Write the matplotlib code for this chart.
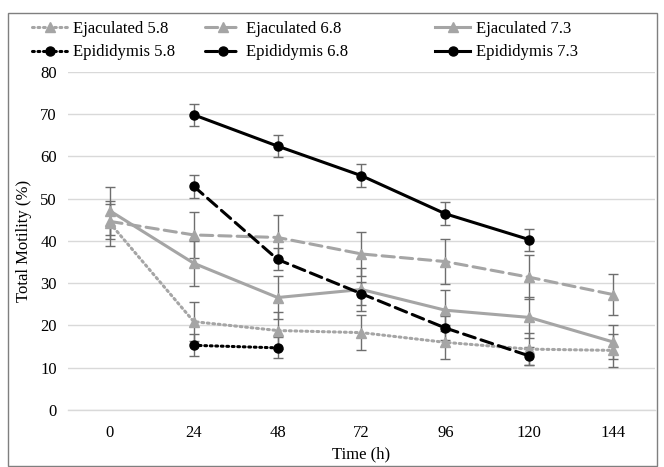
import matplotlib
matplotlib.use("Agg")
import matplotlib.pyplot as plt
import numpy as np
from matplotlib.patches import Rectangle

plt.rcParams['font.family'] = ['Liberation Serif', 'DejaVu Serif']

# time points (h)
hours = ['0', '24', '48', '72', '96', '120', '144']

# total motility (%) and error bars
ejac_58 = [44.2, 20.9, 18.8, 18.3, 16.0, 14.4, 14.1]
ejac_58_err = [5.3, 4.6, 4.4, 4.1, 4.0, 3.8, 3.9]
ejac_68 = [44.6, 41.4, 40.8, 36.9, 35.1, 31.4, 27.3]
ejac_68_err = [4.2, 5.4, 5.4, 5.3, 5.3, 5.2, 4.9]
ejac_73 = [47.1, 34.7, 26.6, 28.5, 23.6, 21.9, 16.1]
ejac_73_err = [5.6, 5.3, 5.0, 5.0, 4.8, 4.8, 4.0]
epid_58 = [np.nan, 15.3, 14.7, np.nan, np.nan, np.nan, np.nan]
epid_58_err = [0, 2.6, 2.5, 0, 0, 0, 0]
epid_68 = [np.nan, 52.9, 35.6, 27.5, 19.4, 12.8, np.nan]
epid_68_err = [0, 2.7, 2.6, 2.7, 2.9, 2.2, 0]
epid_73 = [np.nan, 69.8, 62.4, 55.4, 46.4, 40.3, np.nan]
epid_73_err = [0, 2.6, 2.6, 2.7, 2.7, 2.6, 0]

GRAY = '#a5a5a5'
ERR = '#6e6e6e'
FS = 12

fig = plt.figure(figsize=(6.64, 4.67), dpi=100)
ax = fig.add_axes([0.1024, 0.122, 0.884, 0.7245])

x = np.arange(len(hours))

series = [
    (ejac_58, ejac_58_err, 'Ejaculated 5.8', GRAY, '^', (0, (0.6, 1.2))),
    (ejac_68, ejac_68_err, 'Ejaculated 6.8', GRAY, '^', (0, (4, 2))),
    (ejac_73, ejac_73_err, 'Ejaculated 7.3', GRAY, '^', '-'),
    (epid_58, epid_58_err, 'Epididymis 5.8', 'black', 'o', (0, (0.6, 1.2))),
    (epid_68, epid_68_err, 'Epididymis 6.8', 'black', 'o', (0, (4, 2))),
    (epid_73, epid_73_err, 'Epididymis 7.3', 'black', 'o', '-'),
]

handles = []
for vals, err, name, col, mk, ls in series:
    v = np.array(vals, dtype=float)
    e = np.array(err, dtype=float)
    ok = ~np.isnan(v)
    ax.errorbar(x[ok], v[ok], yerr=e[ok], fmt='none', ecolor=ERR,
                elinewidth=1.0, capsize=3.5, capthick=1.0, zorder=2)
    ln, = ax.plot(x[ok], v[ok], color=col, linestyle=ls, linewidth=2.2,
                  marker=mk, markersize=6.5, markeredgecolor=col,
                  markerfacecolor=col, dash_capstyle='round', zorder=3,
                  label=name)
    handles.append(ln)

ax.set_xlim(-0.5, len(hours) - 0.5)
ax.set_ylim(0, 80)
ax.set_yticks(np.arange(0, 81, 10))
ax.set_xticks(x)
ax.set_xticklabels(hours)
ax.tick_params(axis='both', length=0, labelsize=FS, colors='black')
ax.tick_params(axis='x', pad=11)
ax.tick_params(axis='y', pad=8)
ax.grid(axis='y', color='#d9d9d9', linewidth=1.0)
ax.set_axisbelow(True)
for s in ['top', 'right', 'left']:
    ax.spines[s].set_visible(False)
ax.spines['bottom'].set_color('#d9d9d9')
ax.spines['bottom'].set_linewidth(1.0)
ax.spines['bottom'].set_zorder(1)

ax.set_ylabel('Total Motility (%)', fontsize=FS, labelpad=6)
ax.set_xlabel('Time (h)', fontsize=FS, labelpad=4)

# legend: one small legend per column (Ejaculated above Epididymis)
col_left = [32, 205, 435]
for c in range(3):
    pair = [handles[c], handles[c + 3]]
    leg = fig.legend(pair, [h.get_label() for h in pair],
                     loc='upper left', bbox_to_anchor=(col_left[c] / 664, 1 - 21 / 467),
                     frameon=False, fontsize=FS, handlelength=2.1,
                     handletextpad=0.35, labelspacing=0.45, borderpad=0,
                     borderaxespad=0)

# chart border
fig.patches.append(Rectangle((8 / 664, 1 / 467), 649 / 664, 453 / 467,
                             transform=fig.transFigure, fill=False,
                             edgecolor='#7f7f7f', linewidth=1.0))

fig.savefig('out.png', dpi=100)
